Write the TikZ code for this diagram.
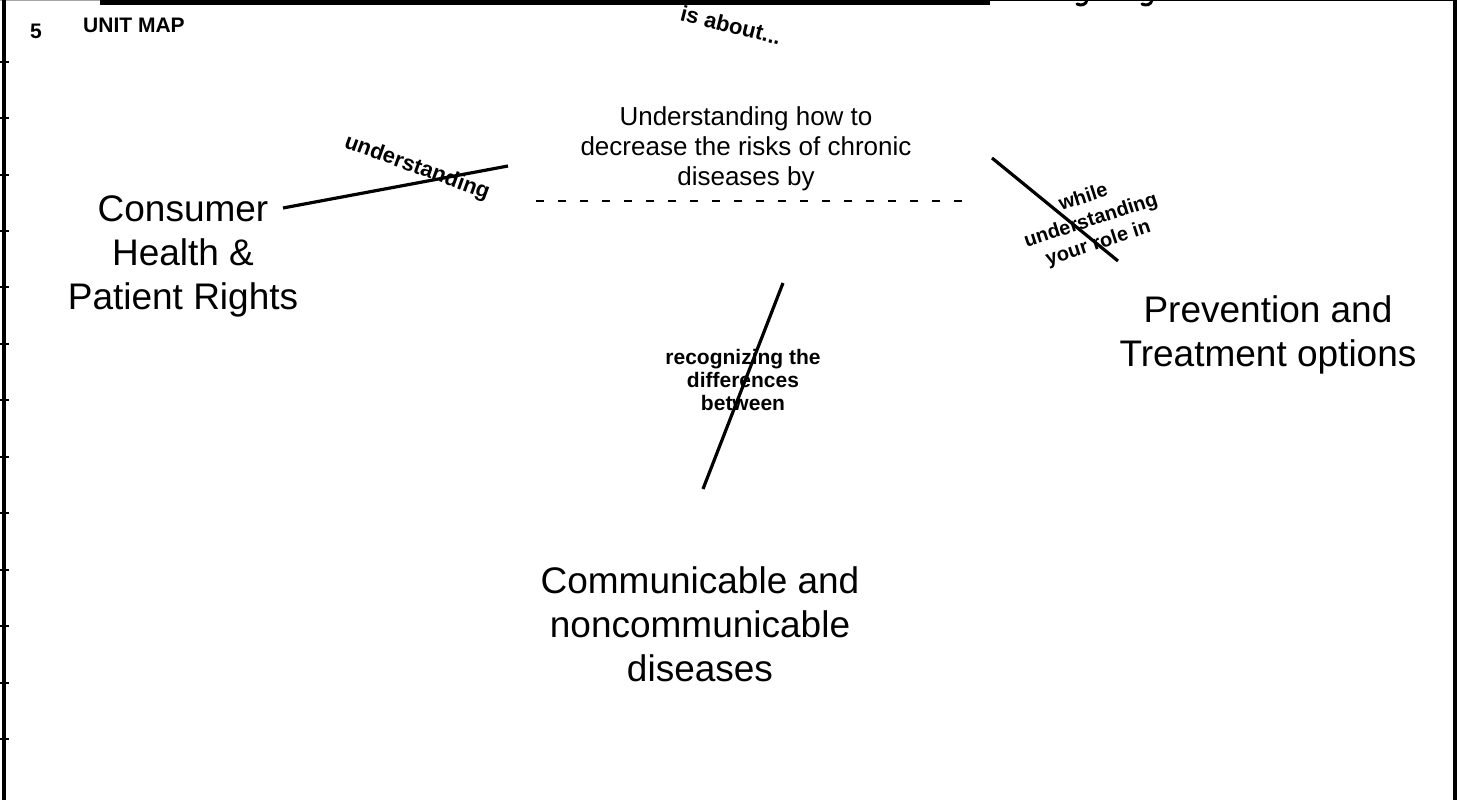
\documentclass[tikz,border=0pt]{standalone}
\usepackage{fontspec}
\setmainfont{Liberation Sans}
\begin{document}
\begin{tikzpicture}[x=1pt,y=-1pt,
  big/.style={font=\fontsize{37}{44}\selectfont, align=center, inner sep=0pt},
  mid/.style={font=\fontsize{26}{30}\selectfont, align=center, inner sep=0pt},
  lbl/.style={font=\bfseries\fontsize{21}{23}\selectfont, align=center, inner sep=0pt},
  lblb/.style={font=\bfseries\fontsize{20}{24}\selectfont, align=center, inner sep=0pt},
  conn/.style={line width=3.2pt},
  frame/.style={line width=4.4pt}]
\useasboundingbox (0,0) rectangle (1460,800);
\fill[white] (0,0) rectangle (1460,800);
% frame
\draw[gray!70, line width=1pt] (0,0.5) -- (100,0.5);
\fill[black] (100,0) rectangle (990,5);
\draw[black, line width=1pt] (990,0.5) -- (1455,0.5);
\draw[frame] (4,0) -- (4,800);
\draw[frame] (1455,0) -- (1455,800);
\foreach \yy in {62,118,175,231,287,344,400,457,513,570,626,683,739}
  \draw[line width=1.4pt] (0,\yy) -- (9,\yy);
% descender remnants at top
\draw[line width=3pt, line cap=round] (1087,0) .. controls (1086,5) and (1081,6) .. (1077,4);
\draw[line width=3pt, line cap=round] (1152,0) .. controls (1151,5) and (1146,6) .. (1142,4);
% header
\node[font=\bfseries\fontsize{21}{24}\selectfont, inner sep=0pt] (num) at (36,31) {5};
\node[font=\bfseries\fontsize{21}{24}\selectfont, inner sep=0pt, anchor=west] (title) at (83,25) {UNIT MAP};
\node[font=\bfseries\fontsize{22}{24}\selectfont, inner sep=0pt, rotate=-14] (about) at (731,25) {is about...};
% main nodes
\node[big] (chp) at (183,256) {Consumer\\Health \&\\Patient Rights};
\node[big] (pto) at (1268,335) {Prevention and\\Treatment options};
\node[big] (cnd) at (700,624) {Communicable and\\noncommunicable\\diseases};
\node[mid] (ctr) at (746,149) {Understanding how to\\decrease the risks of chronic\\diseases by};
% connectors
\coordinate (u1) at (283,208);
\coordinate (u2) at (508,166);
\draw[conn] (u1) -- (u2);
\coordinate (d1) at (536,201);
\coordinate (d2) at (963,201);
\draw[line width=1.5pt, dash pattern=on 8pt off 14pt] (d1) -- (d2);
\coordinate (w1) at (992,158);
\coordinate (w2) at (1118,261);
\draw[conn] (w1) -- (w2);
\coordinate (r1) at (783,283);
\coordinate (r2) at (703,489);
\draw[conn] (r1) -- (r2);
% labels
\node[font=\bfseries\fontsize{22}{24}\selectfont, inner sep=0pt, rotate=-20] (lu) at (417,168) {understanding};
\node[lblb, rotate=18] (lw) at (1091,221) {while\\understanding\\your role in};
\node[lbl] (lr) at (743,380) {recognizing the\\differences\\between};
\end{tikzpicture}
\end{document}
